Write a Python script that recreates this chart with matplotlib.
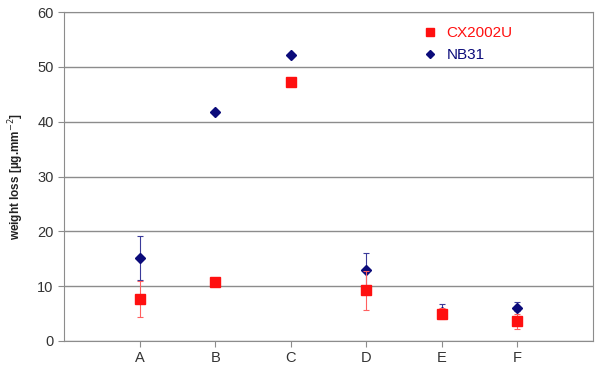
import numpy as np
import matplotlib.pyplot as plt
from matplotlib.lines import Line2D

plt.rcParams['font.family'] = ['Liberation Sans', 'DejaVu Sans']

categorias = ["A", "B", "C", "D", "E", "F"]

cx_valores = [7.7, 10.8, 47.2, 9.3, 5.0, 3.7]
cx_erro_inf = [3.4, 0.0, 0.0, 3.6, 1.0, 1.6]
cx_erro_sup = [3.3, 0.0, 0.0, 3.5, 1.0, 1.2]

nb_valores = [15.1, 41.8, 52.2, 13.0, 5.3, 6.1]
nb_erro_inf = [4.0, 0.0, 0.0, 3.0, 1.0, 0.6]
nb_erro_sup = [4.0, 0.0, 0.0, 3.0, 1.5, 1.1]

vermelho = "#ff1010"
azul = "#0b0b7a"

fig = plt.figure(figsize=(5.95, 3.65), dpi=100)
ax = fig.add_axes([0.1076, 0.0658, 0.889, 0.901])

x = np.arange(1, len(categorias) + 1)

ax.errorbar(x, nb_valores, yerr=[nb_erro_inf, nb_erro_sup], fmt="D",
            color=azul, markersize=5.5, elinewidth=0.8, capsize=2,
            capthick=0.8, ecolor="#3a3a9a", zorder=3)
ax.errorbar(x, cx_valores, yerr=[cx_erro_inf, cx_erro_sup], fmt="s",
            color=vermelho, markersize=7, elinewidth=0.8, capsize=2,
            capthick=0.8, ecolor="#ff6060", zorder=4)

ax.set_xlim(0, 7)
ax.set_ylim(0, 60)
ax.set_xticks(x)
ax.set_xticklabels(categorias)
ax.set_yticks(np.arange(0, 61, 10))
ax.yaxis.grid(True, color="#8c8c8c", linewidth=1.0)
ax.set_axisbelow(True)
for lado in ax.spines.values():
    lado.set_color("#8c8c8c")
ax.tick_params(colors="#8c8c8c", labelcolor="#333333", labelsize=10.5, length=4)

ax.set_ylabel("weight loss [µg.mm$^{-2}$]", fontsize=8.5, fontweight="bold",
              color="#222222", labelpad=8)

handles = [
    Line2D([], [], marker="s", color=vermelho, linestyle="none", markersize=6),
    Line2D([], [], marker="D", color=azul, linestyle="none", markersize=4.5),
]
leg = ax.legend(handles, ["CX2002U", "NB31"], loc="upper left",
                bbox_to_anchor=(0.645, 1.0), frameon=False, fontsize=11,
                handletextpad=0.3, labelspacing=0.55, handlelength=1.5)
for texto, cor in zip(leg.get_texts(), [vermelho, azul]):
    texto.set_color(cor)

fig.savefig("out.png", dpi=100)
